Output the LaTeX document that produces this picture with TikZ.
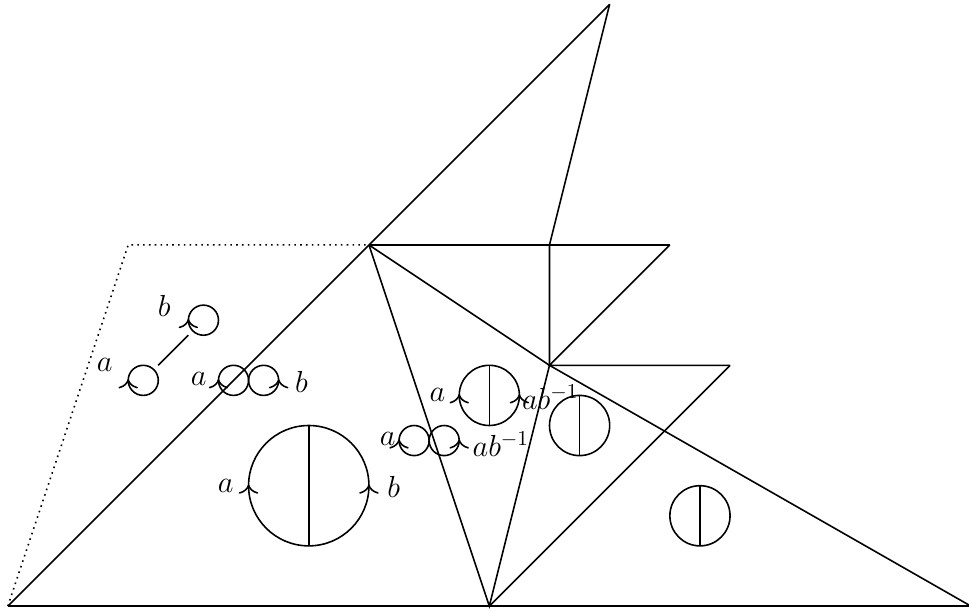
\documentclass[tikz,border=0pt]{standalone}
\usetikzlibrary{arrows.meta}
\begin{document}
\begin{tikzpicture}[line width=0.75pt,
  tip/.style={-{To[scale=1.35]}},
  lab/.style={inner sep=0pt,font=\Large}]
\useasboundingbox (-0.13,-0.07) rectangle (15.97,10.07);
% vertices
\coordinate (A) at (0,0);
\coordinate (B) at (8,0);
\coordinate (C) at (16,0);
\coordinate (D) at (6,6);
\coordinate (E) at (10,10);
\coordinate (F) at (9,6);
\coordinate (G) at (11,6);
\coordinate (H) at (9,4);
\coordinate (I) at (12,4);
\coordinate (P) at (2,6);
% edges
\draw (A) -- (C);
\draw (A) -- (E);
\draw (D) -- (G);
\draw (E) -- (F) -- (H);
\draw (G) -- (H) -- (I);
\draw (D) -- (H) -- (C);
\draw (D) -- (B) -- (H);
\draw (I) -- (B);
\draw[dotted] (A) -- (P) -- (D);
% small circles top-left
\draw (2.25,3.75) circle (0.25);
\draw (3.25,4.75) circle (0.25);
\coordinate (l1) at (2.5,4);
\coordinate (l2) at (3,4.5);
\draw (l1) -- (l2);
\draw[tip] (2,3.73) -- (2,3.77);
\draw[tip] (3,4.73) -- (3,4.77);
\node[lab] (la1) at (1.61,4.0) {$a$};
\node[lab] (lb1) at (2.6,4.99) {$b$};
% pair
\draw (3.75,3.75) circle (0.25);
\draw (4.25,3.75) circle (0.25);
\draw[tip] (3.5,3.73) -- (3.5,3.77);
\draw[tip] (4.5,3.73) -- (4.5,3.77);
\node[lab] (la2) at (3.17,3.77) {$a$};
\node[lab] (lb2) at (4.88,3.73) {$b$};
% big circle
\draw (5,2) circle (1);
\draw (5,3) -- (5,1);
\draw[tip] (4,1.98) -- (4,2.02);
\draw[tip] (6,1.98) -- (6,2.02);
\node[lab] (la3) at (3.62,2.0) {$a$};
\node[lab] (lb3) at (6.41,1.98) {$b$};
% pair 2
\draw (6.75,2.75) circle (0.25);
\draw (7.25,2.75) circle (0.25);
\draw[tip] (6.5,2.73) -- (6.5,2.77);
\draw[tip] (7.5,2.73) -- (7.5,2.77);
\node[lab] (la4) at (6.31,2.78) {$a$};
\node[lab,anchor=west] (lb4) at (7.71,2.69) {$ab^{-1}$};
% circle (8,3.5)
\draw (8,3.5) circle (0.5);
\draw (8,4) -- (8,3);
\draw[tip] (7.5,3.48) -- (7.5,3.52);
\draw[tip] (8.5,3.48) -- (8.5,3.52);
\node[lab] (la5) at (7.14,3.5) {$a$};
\node[lab,anchor=west] (lb5) at (8.53,3.47) {$ab^{-1}$};
% circle (9.5,3)
\draw (9.5,3) circle (0.5);
\draw (9.5,3.5) -- (9.5,2.5);
% circle (11.5,1.5)
\draw (11.5,1.5) circle (0.5);
\draw (11.5,2) -- (11.5,1);
\end{tikzpicture}
\end{document}
